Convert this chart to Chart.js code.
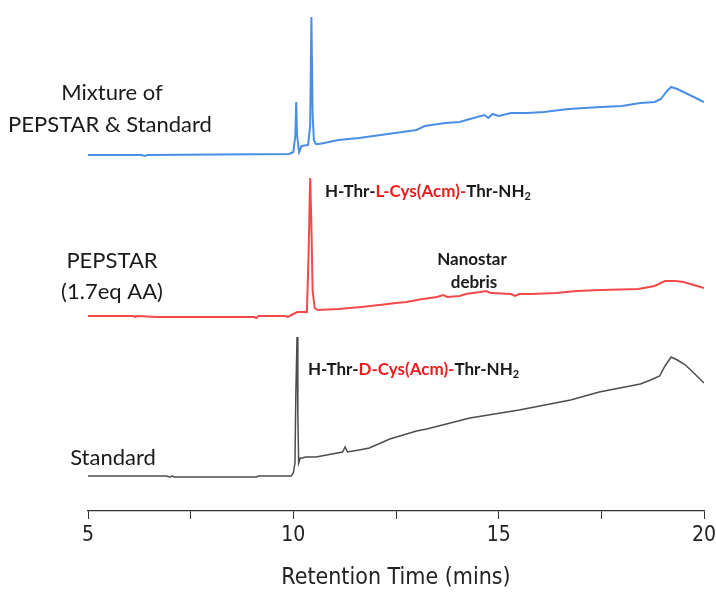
<!DOCTYPE html>
<html>
<head>
<meta charset="utf-8">
<script src="https://cdn.jsdelivr.net/npm/chart.js@4"></script>
<style>
  html, body { margin: 0; padding: 0; background: #fff; }
  #wrap { width: 716px; height: 592px; }
</style>
</head>
<body>
<div id="wrap"><canvas id="hplc" width="716" height="592"></canvas></div>
<script>
// retention times (mins) and signal above each trace's own baseline
const mixTime = [5.0, 6.3, 6.38, 6.45, 9.9, 10.0, 10.05, 10.07, 10.09, 10.14, 10.2, 10.36, 10.41, 10.44, 10.47, 10.5, 10.55, 10.62, 10.75, 11.1, 11.6, 12.3, 13.0, 13.2, 13.7, 14.05, 14.3, 14.65, 14.75, 14.85, 15.0, 15.3, 15.7, 16.1, 16.7, 17.5, 18.0, 18.45, 18.8, 18.95, 19.1, 19.2, 19.35, 19.55, 19.8, 20.0];
const mixSignal = [0, 0, -1, 0, 1, 3, 20, 53, 20, 3, 9, 10, 30, 138, 40, 15, 11, 11, 12, 15, 17, 21, 25, 29, 32, 33, 36, 40, 37, 41, 39, 42, 42, 43, 46, 48, 49, 52, 53, 56, 64, 68, 66, 62, 57, 53];

const pepTime = [5.0, 6.1, 6.15, 6.2, 6.7, 9.05, 9.1, 9.15, 9.8, 9.87, 9.95, 10.1, 10.33, 10.37, 10.41, 10.44, 10.47, 10.52, 10.6, 11.1, 11.65, 12.1, 12.5, 12.75, 13.15, 13.5, 13.65, 13.75, 14.05, 14.2, 14.55, 14.7, 14.8, 14.86, 15.3, 15.4, 15.5, 15.8, 16.4, 16.9, 17.5, 18.4, 18.8, 19.05, 19.3, 19.5, 19.75, 20.0];
const pepSignal = [0, 0, -1, 0, -1, -1, -2, 0, 0, -1, 1, 4, 4, 60, 138, 90, 25, 8, 6, 7, 9, 11, 13, 14, 17, 19, 21, 19, 20, 22, 24, 25, 23, 23, 22, 20, 22, 22, 23, 25, 26, 27, 30, 35, 35, 34, 31, 28];

const stdTime = [5.0, 6.9, 7.0, 7.05, 7.1, 9.1, 9.15, 9.95, 10.0, 10.04, 10.06, 10.09, 10.11, 10.13, 10.17, 10.22, 10.3, 10.55, 11.2, 11.26, 11.32, 11.6, 11.85, 12.35, 13.0, 13.25, 14.3, 15.5, 16.75, 17.45, 18.45, 18.7, 18.92, 19.05, 19.2, 19.35, 19.55, 19.8, 20.0];
const stdSignal = [0, 0, -1, 0, -1, -1, 0, 0, 3, 13, 80, 139, 60, 13, 18, 18, 19, 19, 24, 29, 24, 26, 28, 37, 45, 47, 58, 66, 76, 84, 92, 96, 100, 110, 119, 116, 111, 101, 93];

// vertical stacking offsets of the three chromatograms
const offsets = [356, 195, 35];
const xTicks = [5, 10, 15, 20];

function toPoints(t, s, off) {
  return t.map((x, i) => ({ x: x, y: s[i] + off }));
}

const labelFont = "'Lato', 'Open Sans', sans-serif";
const axisFont = "'Liberation Sans Narrow', 'DejaVu Sans Condensed', 'Liberation Sans'";

// text labels beside the traces
const textPlugin = {
  id: 'traceText',
  afterDraw(chart) {
    const ctx = chart.ctx;
    ctx.save();
    ctx.textBaseline = 'alphabetic';
    ctx.fillStyle = '#1a1a1a';
    ctx.textAlign = 'center';
    ctx.font = "22px " + labelFont;
    ctx.fillText('Mixture of', 112, 100);
    ctx.fillText('PEPSTAR & Standard', 110, 132);
    ctx.fillText('PEPSTAR', 112, 268);
    ctx.fillText('(1.7eq AA)', 112, 299);
    ctx.fillText('Standard', 113, 465);

    ctx.font = "bold 17px " + labelFont;
    ctx.fillText('Nanostar', 472, 265);
    ctx.fillText('debris', 474, 288);

    function peptide(x, y, iso) {
      const parts = [['H-Thr-', '#1a1a1a'], [iso + '-Cys(Acm)-', '#ee1c1c'], ['Thr-NH', '#1a1a1a']];
      ctx.textAlign = 'left';
      ctx.font = "bold 17px " + labelFont;
      parts.forEach(p => {
        ctx.fillStyle = p[1];
        ctx.fillText(p[0], x, y);
        x += ctx.measureText(p[0]).width;
      });
      ctx.fillStyle = '#1a1a1a';
      ctx.font = "bold 11px " + labelFont;
      ctx.fillText('2', x, y + 3);
    }
    peptide(325, 197, 'L');
    peptide(308, 375, 'D');
    ctx.restore();
  }
};

const hplcChart = new Chart(document.getElementById('hplc'), {
  type: 'line',
  data: {
    datasets: [
      { label: 'Mixture of PEPSTAR & Standard', data: toPoints(mixTime, mixSignal, offsets[0]), borderColor: '#4a8ee6', borderWidth: 2 },
      { label: 'PEPSTAR (1.7eq AA)', data: toPoints(pepTime, pepSignal, offsets[1]), borderColor: '#f24a4a', borderWidth: 2 },
      { label: 'Standard', data: toPoints(stdTime, stdSignal, offsets[2]), borderColor: '#4d4d4d', borderWidth: 1.5 }
    ]
  },
  options: {
    responsive: false,
    animation: false,
    elements: { point: { radius: 0 }, line: { tension: 0 } },
    layout: { padding: { left: 88, right: 12, top: 11, bottom: 0 } },
    plugins: { legend: { display: false }, tooltip: { enabled: false } },
    scales: {
      x: {
        type: 'linear',
        min: 5,
        max: 20,
        afterFit: s => { s.paddingLeft = 0; s.paddingRight = 0; s.height = 81; },
        border: { display: true, color: '#333', width: 1.3 },
        grid: { display: true, drawOnChartArea: false, drawTicks: true, tickLength: 8, color: '#333' },
        ticks: {
          stepSize: 2.5,
          autoSkip: false,
          maxRotation: 0,
          padding: 4,
          color: '#222',
          font: { family: axisFont, size: 21 },
          callback: v => xTicks.includes(v) ? String(v) : ''
        },
        title: {
          display: true,
          text: 'Retention Time (mins)',
          color: '#222',
          padding: { top: 6, bottom: 0 },
          font: { family: axisFont, size: 23 }
        }
      },
      y: { display: false, min: 0, max: 500 }
    }
  },
  plugins: [textPlugin]
});
</script>
</body>
</html>
